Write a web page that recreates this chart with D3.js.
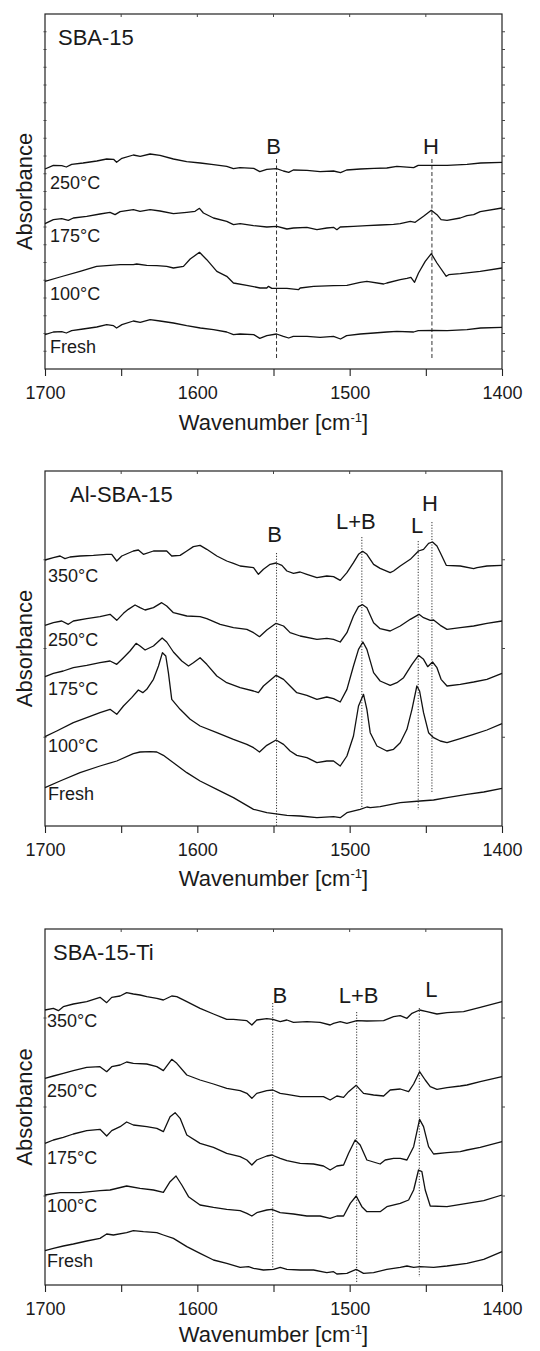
<!DOCTYPE html>
<html>
<head>
<meta charset="utf-8">
<script src="https://cdn.jsdelivr.net/npm/d3@7"></script>
<style>
  body { margin: 0; background: #fff; }
  svg { display: block; }
  text { font-family: "Liberation Sans", Arial, Helvetica, sans-serif; fill: #1a1a1a; }
</style>
</head>
<body>
<svg id="chart" width="540" height="1351"></svg>
<script>
// x ticks (wavenumber, cm-1)
const xTickLabels = [1700, 1600, 1500, 1400];
const xMinorTicks = [1700, 1650, 1600, 1550, 1500, 1450, 1400];

// ---- SBA-15 : [wavenumber, absorbance a.u.]
const sba15_250 = [[1700,.600],[1694.5,.611],[1689,.610],[1686,.606],[1682.5,.614],[1675,.618],[1666,.624],[1659.5,.630],[1655,.629],[1653,.620],[1649.5,.632],[1642,.642],[1637.5,.638],[1631,.645],[1624.5,.641],[1615.7,.630],[1607,.622],[1598,.618],[1589.4,.613],[1580.7,.608],[1576.3,.601],[1572,.604],[1563,.602],[1559,.592],[1554.4,.599],[1548,.601],[1543.5,.594],[1540,.590],[1537,.597],[1528,.596],[1519.4,.592],[1510.6,.594],[1506,.589],[1502,.597],[1493,.600],[1484,.602],[1475.6,.603],[1469,.608],[1458,.604],[1455,.611],[1445,.611],[1436,.611],[1423,.614],[1414,.618],[1400,.620]];
const sba15_175 = [[1700,.436],[1694.5,.448],[1689,.451],[1684.7,.446],[1681.4,.453],[1672.6,.458],[1663.9,.465],[1657.3,.470],[1654,.463],[1650.7,.472],[1642,.478],[1637.6,.473],[1631,.478],[1624.5,.474],[1615.7,.466],[1606.9,.470],[1601.5,.473],[1598.6,.482],[1596,.468],[1589.4,.453],[1580.7,.443],[1576.3,.433],[1571.9,.436],[1563.1,.430],[1554.4,.426],[1547.8,.428],[1541.2,.420],[1536.9,.423],[1528.1,.425],[1521.5,.418],[1515,.423],[1510.6,.425],[1508.4,.418],[1506.2,.426],[1497.5,.428],[1488.7,.430],[1480,.432],[1471.2,.434],[1466.8,.436],[1460.2,.443],[1457,.440],[1451.5,.458],[1446.4,.476],[1442.7,.463],[1440,.448],[1436.1,.446],[1427.4,.453],[1423,.460],[1418.6,.463],[1414.3,.472],[1400,.483]];
const sba15_100 = [[1700,.263],[1690.1,.276],[1677,.293],[1666.1,.308],[1659.5,.310],[1650.7,.313],[1642,.313],[1639.8,.315],[1633.2,.311],[1626.6,.310],[1620.1,.308],[1615.7,.303],[1609.1,.308],[1604.7,.330],[1598.6,.350],[1593.8,.328],[1587.2,.293],[1580.7,.278],[1576.3,.258],[1567.5,.251],[1558.8,.243],[1554.4,.243],[1553.3,.248],[1551.1,.242],[1541.2,.242],[1533.6,.238],[1532.5,.243],[1523.7,.248],[1510.6,.250],[1501.8,.251],[1493.1,.260],[1488.7,.263],[1477.7,.255],[1475.6,.258],[1466.8,.268],[1462.4,.272],[1459.8,.275],[1457.4,.260],[1454.8,.288],[1450.4,.323],[1446.4,.346],[1442.7,.318],[1436.6,.278],[1435,.283],[1427.4,.286],[1414.3,.293],[1400,.303]];
const sba15_fresh = [[1700,.103],[1694.5,.111],[1689,.112],[1686,.108],[1682.5,.115],[1675,.120],[1666,.126],[1659.5,.133],[1655,.130],[1653,.123],[1649.5,.133],[1642,.144],[1637.5,.140],[1631,.148],[1624.5,.144],[1615.7,.138],[1607,.130],[1598,.123],[1589.4,.118],[1580.7,.111],[1576.3,.103],[1572,.105],[1563,.103],[1559,.092],[1554.4,.100],[1548,.105],[1543.5,.098],[1540,.093],[1537,.098],[1528,.098],[1519.4,.095],[1510.6,.098],[1506,.090],[1502,.100],[1493,.105],[1484,.108],[1475.6,.111],[1469,.113],[1458,.111],[1455,.115],[1445,.116],[1436,.115],[1423,.118],[1414,.123],[1400,.125]];

// ---- Al-SBA-15
const al_350 = [[1700,.798],[1694.5,.805],[1690.1,.810],[1686.9,.802],[1683.6,.807],[1677,.810],[1668.2,.812],[1659.5,.815],[1656.2,.815],[1652.9,.795],[1649.6,.810],[1642,.825],[1638.7,.828],[1635.4,.815],[1628.8,.825],[1620.1,.825],[1616.8,.810],[1611.3,.812],[1606.9,.825],[1602.6,.838],[1598.2,.842],[1593.8,.830],[1587.2,.810],[1580.7,.795],[1576.3,.788],[1571.9,.780],[1563.1,.775],[1559.9,.755],[1556.6,.770],[1552.2,.785],[1548.3,.789],[1544.5,.782],[1541.2,.765],[1536.9,.758],[1532.5,.762],[1528.1,.755],[1521.5,.745],[1515,.750],[1510.6,.748],[1506.2,.737],[1501.8,.760],[1497.5,.790],[1494.2,.815],[1491.5,.824],[1488.7,.815],[1484.3,.785],[1480,.773],[1473.4,.760],[1471.2,.765],[1466.8,.780],[1460.2,.800],[1454.8,.825],[1451.5,.830],[1448.2,.848],[1445.6,.852],[1442.7,.840],[1440.5,.820],[1436.6,.782],[1427.4,.780],[1418.6,.772],[1416.4,.775],[1409.9,.780],[1400,.782]];
const al_250 = [[1700,.602],[1694.5,.610],[1689,.615],[1684.7,.605],[1681.4,.615],[1672.6,.622],[1663.9,.628],[1657.3,.635],[1652.9,.617],[1648.5,.638],[1645.3,.650],[1640.9,.663],[1637.6,.655],[1634.3,.648],[1628.8,.655],[1623.4,.670],[1620.1,.660],[1615.7,.640],[1606.9,.630],[1598.2,.628],[1593.8,.622],[1585,.605],[1576.3,.595],[1567.5,.590],[1563.1,.580],[1559.2,.568],[1554.4,.588],[1548.3,.608],[1543.4,.600],[1539.1,.580],[1532.5,.570],[1521.5,.560],[1515,.563],[1510.6,.560],[1506.2,.552],[1501.8,.580],[1497.5,.630],[1494.2,.658],[1491.5,.664],[1488.7,.655],[1484.3,.610],[1480,.592],[1473.4,.585],[1466.8,.600],[1460.2,.620],[1454.5,.635],[1451.5,.625],[1447.1,.617],[1444.9,.618],[1440.5,.602],[1436.1,.590],[1427.4,.595],[1418.6,.600],[1409.9,.608],[1400,.615]];
const al_175 = [[1700,.448],[1694.5,.458],[1688,.465],[1681.4,.475],[1672.6,.482],[1663.9,.490],[1657.3,.495],[1652.9,.485],[1648.5,.505],[1644.2,.525],[1640.2,.548],[1637.6,.540],[1634.3,.528],[1628.8,.540],[1623.1,.564],[1620.1,.552],[1615.7,.522],[1610.2,.495],[1605.8,.480],[1602.6,.490],[1598.2,.505],[1593.8,.485],[1587.2,.450],[1580.7,.430],[1571.9,.415],[1563.1,.405],[1559.9,.400],[1556.6,.420],[1548.3,.452],[1543.4,.440],[1539.1,.420],[1534.7,.400],[1528.1,.392],[1521.5,.380],[1515,.387],[1510.6,.382],[1506.2,.372],[1501.8,.410],[1497.5,.480],[1494.2,.530],[1491.3,.552],[1488.7,.530],[1484.3,.460],[1480,.435],[1473.4,.422],[1469,.430],[1464.6,.445],[1459.1,.485],[1454.8,.512],[1451.5,.500],[1448.8,.478],[1445.6,.492],[1442.7,.475],[1440,.440],[1436.1,.420],[1427.4,.425],[1418.6,.432],[1409.9,.440],[1400,.458]];
const al_100 = [[1700,.268],[1692.3,.285],[1681.4,.310],[1672.6,.325],[1663.9,.340],[1657.3,.350],[1652.9,.335],[1648.5,.360],[1643.1,.385],[1638.7,.408],[1635.8,.400],[1633.2,.410],[1628.8,.440],[1625.5,.480],[1622.9,.520],[1620.7,.510],[1619,.460],[1616.8,.380],[1611.3,.350],[1604.7,.320],[1598.2,.300],[1587.2,.280],[1576.3,.260],[1567.5,.245],[1563.1,.235],[1559.2,.222],[1554.4,.242],[1548.3,.258],[1543.4,.245],[1539.1,.225],[1534.7,.212],[1528.1,.205],[1521.5,.190],[1515,.195],[1510.6,.195],[1506.2,.180],[1501.8,.210],[1497.5,.270],[1494.2,.360],[1490.9,.395],[1488.7,.350],[1486.5,.280],[1482.1,.240],[1475.6,.225],[1471.2,.230],[1466.8,.250],[1462.4,.290],[1459.1,.350],[1455.9,.420],[1454.1,.405],[1451.5,.340],[1448.2,.280],[1444.9,.265],[1440.5,.255],[1436.1,.250],[1427.4,.262],[1418.6,.275],[1409.9,.288],[1400,.307]];
const al_fresh = [[1700,.115],[1690.1,.135],[1677,.160],[1663.9,.180],[1652.9,.195],[1642,.217],[1637.6,.222],[1631,.223],[1626.6,.222],[1622.3,.212],[1615.7,.190],[1606.9,.160],[1598.2,.135],[1587.2,.110],[1576.3,.085],[1563.1,.050],[1554.4,.040],[1541.2,.032],[1532.5,.030],[1521.5,.025],[1510.6,.028],[1506.2,.025],[1501.8,.040],[1493.1,.050],[1488.7,.057],[1486.5,.055],[1480,.058],[1466.8,.070],[1453.7,.075],[1444.9,.078],[1436.1,.085],[1423,.095],[1412,.102],[1400,.113]];

// ---- SBA-15-Ti
const ti_350 = [[1700,.825],[1694.5,.830],[1691.2,.823],[1688,.835],[1681.4,.843],[1672.6,.850],[1663.9,.863],[1659.5,.847],[1656.2,.863],[1650.7,.867],[1646.4,.877],[1642,.873],[1637.6,.870],[1633.2,.865],[1626.6,.860],[1622.3,.855],[1616.8,.867],[1613.5,.865],[1606.9,.850],[1598.2,.830],[1589.4,.813],[1580.7,.797],[1576.3,.797],[1567.5,.793],[1564.2,.780],[1561,.795],[1554.4,.799],[1550.4,.797],[1545.6,.790],[1541.2,.795],[1536.9,.788],[1528.1,.790],[1519.4,.788],[1512.8,.780],[1510.6,.785],[1506.2,.790],[1501.8,.785],[1495.3,.793],[1488.7,.792],[1477.7,.793],[1471.2,.805],[1466.8,.808],[1462.4,.800],[1459.1,.815],[1454.1,.825],[1449.3,.820],[1442.7,.813],[1436.1,.817],[1425.2,.820],[1414.3,.833],[1400,.850]];
const ti_250 = [[1700,.620],[1694.5,.627],[1688,.635],[1681.4,.643],[1672.6,.653],[1663.9,.655],[1659.5,.640],[1656.2,.655],[1650.7,.660],[1646.4,.669],[1642,.665],[1633.2,.663],[1626.6,.655],[1622.3,.643],[1616.8,.677],[1613.5,.665],[1606.9,.630],[1598.2,.615],[1589.4,.603],[1580.7,.590],[1571.9,.583],[1567.5,.575],[1564.2,.560],[1561,.575],[1554.4,.583],[1550.4,.585],[1545.6,.575],[1541.2,.572],[1532.5,.565],[1523.7,.565],[1517.2,.565],[1512.8,.555],[1508.4,.567],[1504,.563],[1500.7,.580],[1495.7,.599],[1490.9,.575],[1484.3,.570],[1477.7,.567],[1473.4,.585],[1466.8,.588],[1461.3,.580],[1458,.603],[1454.1,.640],[1450.4,.615],[1447.1,.595],[1442.7,.587],[1436.1,.592],[1427.4,.597],[1423,.600],[1414.3,.610],[1400,.625]];
const ti_175 = [[1700,.425],[1694.5,.435],[1688,.443],[1681.4,.453],[1672.6,.463],[1663.9,.467],[1659.5,.447],[1656.2,.463],[1650.7,.475],[1646.4,.489],[1642,.480],[1633.2,.475],[1626.6,.470],[1622.3,.460],[1617.9,.505],[1614.6,.517],[1611.3,.500],[1606.9,.450],[1598.2,.425],[1589.4,.413],[1580.7,.395],[1571.9,.385],[1567.5,.375],[1564.2,.360],[1561,.375],[1554.4,.387],[1551.1,.390],[1545.6,.380],[1541.2,.373],[1532.5,.365],[1523.7,.363],[1517.2,.357],[1512.8,.345],[1508.4,.357],[1504,.360],[1500.7,.395],[1496.4,.435],[1493.1,.420],[1488.7,.375],[1480,.363],[1476.7,.375],[1471.2,.380],[1466.8,.380],[1462.4,.375],[1458,.415],[1454.1,.497],[1451.5,.475],[1448.2,.415],[1444.9,.393],[1436.1,.397],[1427.4,.400],[1423,.405],[1414.3,.413],[1400,.430]];
const ti_100 = [[1700,.270],[1690.1,.277],[1677,.277],[1663.9,.283],[1657.3,.285],[1646.4,.297],[1637.6,.290],[1628.8,.285],[1622.3,.278],[1617.9,.310],[1614,.327],[1610.2,.300],[1605.8,.265],[1598.2,.240],[1589.4,.233],[1580.7,.227],[1571.9,.223],[1567.5,.215],[1564.2,.207],[1561,.217],[1554.4,.225],[1551.1,.227],[1545.6,.217],[1536.9,.213],[1528.1,.207],[1519.4,.207],[1512.8,.200],[1508.4,.207],[1504,.207],[1499.6,.245],[1495.7,.267],[1492,.235],[1488.7,.220],[1480,.220],[1475.6,.235],[1466.8,.245],[1461.3,.255],[1458,.285],[1454.8,.345],[1452.6,.340],[1450.4,.285],[1447.1,.237],[1436.1,.235],[1423,.245],[1412,.253],[1400,.270]];
const ti_fresh = [[1700,.103],[1694.5,.110],[1688,.117],[1681.4,.123],[1672.6,.132],[1663.9,.140],[1659.5,.153],[1655.1,.150],[1646.4,.157],[1642,.163],[1635.4,.160],[1626.6,.157],[1622.3,.150],[1615.7,.140],[1606.9,.115],[1598.2,.095],[1589.4,.075],[1580.7,.065],[1571.9,.053],[1566.4,.055],[1563.1,.050],[1556.6,.045],[1550,.047],[1545.6,.053],[1541.2,.047],[1532.5,.045],[1523.7,.045],[1515,.037],[1510.6,.040],[1508.4,.033],[1501.8,.035],[1495.7,.047],[1490.9,.035],[1484.3,.037],[1475.6,.047],[1466.8,.053],[1462.4,.057],[1458,.053],[1453.7,.055],[1444.9,.053],[1436.1,.057],[1423,.065],[1412,.077],[1400,.100]];

// series labels and peak assignments
const temps1 = ["250°C", "175°C", "100°C", "Fresh"];
const temps2 = ["350°C", "250°C", "175°C", "100°C", "Fresh"];
const peaks1 = [["B", 1548], ["H", 1446]];
const peaks2 = [["B", 1548], ["L+B", 1492], ["L", 1455], ["H", 1446]];
const peaks3 = [["B", 1550.5], ["L+B", 1495.4], ["L", 1454.3]];

// layout (pixels)
const panels = [
  { title: "SBA-15", top: 14, bottom: 369, titleX: 58, titleY: 45, yTicks: 20, dash: "4,2.5", xTitleDy: 61,
    series: [sba15_250, sba15_175, sba15_100, sba15_fresh], labels: temps1,
    labelY: [189, 242, 300, 353], labelX: 50,
    peaks: peaks1,
    peakLayout: [{ t: 159, b: 360, dx: -3, ly: 154 }, { t: 159, b: 360, dx: -1, ly: 154 }] },
  { title: "Al-SBA-15", top: 471, bottom: 826, titleX: 70, titleY: 502, yTicks: 4, dash: "1.2,1.6", xTitleDy: 60,
    series: [al_350, al_250, al_175, al_100, al_fresh], labels: temps2,
    labelY: [582, 646, 695, 752, 800], labelX: 48,
    peaks: peaks2,
    peakLayout: [{ t: 553, b: 826, dx: -2, ly: 542 }, { t: 537, b: 807, dx: -6, ly: 529 },
                 { t: 541, b: 810, dx: -1, ly: 533 }, { t: 522, b: 792, dx: -2, ly: 511 }] },
  { title: "SBA-15-Ti", top: 929, bottom: 1285, titleX: 53, titleY: 960, yTicks: 4, dash: "1.2,1.6", xTitleDy: 57,
    series: [ti_350, ti_250, ti_175, ti_100, ti_fresh], labels: temps2,
    labelY: [1027, 1097, 1164, 1212, 1267], labelX: 47,
    peaks: peaks3,
    peakLayout: [{ t: 1003, b: 1268, dx: 7, ly: 1003 }, { t: 1012, b: 1283, dx: 2, ly: 1003 },
                 { t: 1008, b: 1277, dx: 12, ly: 997 }] }
];

const svg = d3.select("#chart");
const left = 45, right = 502;
const x = d3.scaleLinear().domain([1700, 1400]).range([left, right]);

const drawPanel = (p) => {
    const h = p.bottom - p.top;
    const y = d3.scaleLinear().domain([0, h * 3 / 1000]).range([p.bottom, p.top]);
    const g = svg.append("g");

    // frame
    g.append("rect")
        .attr("x", left).attr("y", p.top)
        .attr("width", right - left).attr("height", h)
        .attr("fill", "none").attr("stroke", "#222").attr("stroke-width", 1.2);

    // bottom axis, outward ticks
    const xAxis = d3.axisBottom(x).tickValues(xMinorTicks).tickSize(7).tickPadding(10)
        .tickFormat(d => xTickLabels.includes(d) ? d : "");
    const ax = g.append("g").attr("transform", `translate(0,${p.bottom})`).call(xAxis);
    ax.select(".domain").remove();
    ax.selectAll("line").attr("stroke", "#222").attr("stroke-width", 1.1);
    ax.selectAll("text").attr("font-size", 18).attr("fill", "#1a1a1a")
        .attr("font-family", '"Liberation Sans", Arial, sans-serif');

    // top ticks
    g.selectAll(".tt").data(xMinorTicks.slice(1, -1)).join("line")
        .attr("x1", d => x(d)).attr("x2", d => x(d))
        .attr("y1", p.top).attr("y2", p.top + 3)
        .attr("stroke", "#444").attr("stroke-width", 1);

    // side ticks
    const yt = d3.range(1, p.yTicks).map(i => y.domain()[1] * i / p.yTicks);
    g.selectAll(".ly").data(yt).join("line")
        .attr("x1", left - 1.5).attr("x2", left + 1.5)
        .attr("y1", d => y(d)).attr("y2", d => y(d))
        .attr("stroke", "#444").attr("stroke-width", 1);
    g.selectAll(".ry").data(yt).join("line")
        .attr("x1", right).attr("x2", right + 3)
        .attr("y1", d => y(d)).attr("y2", d => y(d))
        .attr("stroke", "#444").attr("stroke-width", 1);

    // peak guide lines
    p.peaks.forEach(([lab, w], i) => {
        const L = p.peakLayout[i];
        g.append("line")
            .attr("x1", x(w)).attr("x2", x(w))
            .attr("y1", L.t).attr("y2", L.b)
            .attr("stroke", "#333").attr("stroke-width", 1)
            .attr("stroke-dasharray", p.dash);
        g.append("text")
            .attr("x", x(w) + L.dx).attr("y", L.ly)
            .attr("text-anchor", "middle").attr("font-size", 22)
            .text(lab);
    });

    // spectra
    const line = d3.line().x(d => x(d[0])).y(d => y(d[1]));
    p.series.forEach((s, i) => {
        g.append("path")
            .datum(s)
            .attr("fill", "none")
            .attr("stroke", "#111")
            .attr("stroke-width", 1.3)
            .attr("stroke-linejoin", "round")
            .attr("d", line);
        g.append("text")
            .attr("x", p.labelX).attr("y", p.labelY[i])
            .attr("font-size", 18)
            .text(p.labels[i]);
    });

    // panel title
    g.append("text").attr("x", p.titleX).attr("y", p.titleY)
        .attr("font-size", 22).text(p.title);

    // axis titles
    g.append("text")
        .attr("transform", `translate(32,${(p.top + p.bottom) / 2}) rotate(-90)`)
        .attr("text-anchor", "middle").attr("font-size", 22)
        .text("Absorbance");

    const t = g.append("text")
        .attr("x", (left + right) / 2).attr("y", p.bottom + p.xTitleDy)
        .attr("text-anchor", "middle").attr("font-size", 22);
    t.append("tspan").text("Wavenumber [cm");
    t.append("tspan").attr("font-size", 13).attr("dy", -8).text("-1");
    t.append("tspan").attr("dy", 8).text("]");
}

panels.forEach(drawPanel);
</script>
</body>
</html>
